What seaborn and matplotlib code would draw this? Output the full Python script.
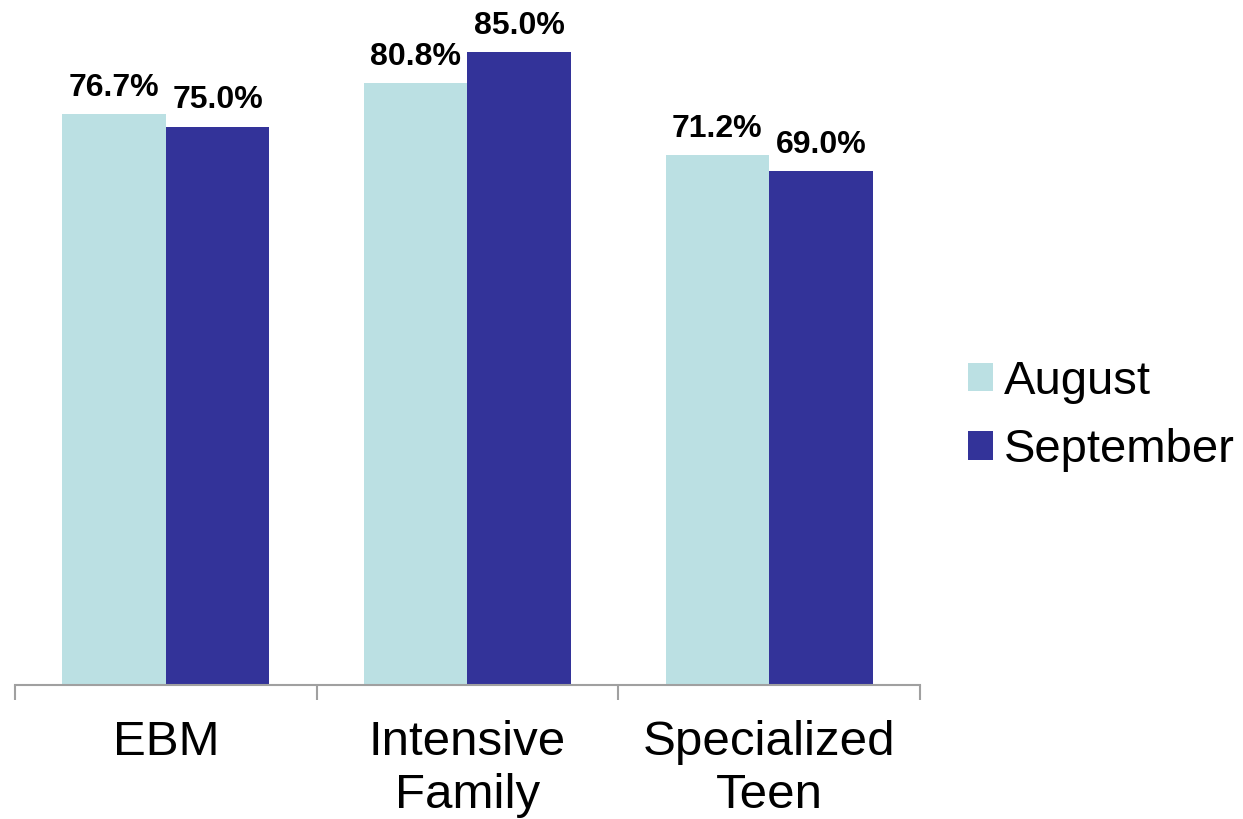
import pandas as pd
from matplotlib import pyplot as plt
import seaborn as sns

categories = ['EBM', 'Intensive\nFamily', 'Specialized\nTeen']
months = ['August', 'September']
august = [76.7, 80.8, 71.2]
september = [75.0, 85.0, 69.0]

df = pd.DataFrame({
    'program': categories * 2,
    'month': [months[0]] * 3 + [months[1]] * 3,
    'value': august + september,
})

sns.set_theme(style='white')
plt.rcParams['font.family'] = ['Liberation Sans', 'DejaVu Sans']
plt.rcParams['text.color'] = 'black'
plt.rcParams['xtick.color'] = 'black'

fig = plt.figure(figsize=(12.43, 8.19), dpi=100)
ax = fig.add_axes([15 / 1243, 1 - 685 / 819, 905 / 1243, 685 / 819])

sns.barplot(data=df, x='program', y='value', hue='month',
            palette=['#BBE0E3', '#333399'], width=0.686,
            saturation=1, linewidth=0, ax=ax, legend=True)

for cont in ax.containers:
    ax.bar_label(cont, fmt='%.1f%%', padding=8, fontsize=23,
                 fontweight='bold', color='black')

ax.set_xlim(-0.5, 2.5)
ax.set_ylim(0, 92)
ax.set_xlabel('')
ax.set_ylabel('')
ax.set_yticks([])
for s in ['top', 'right', 'left']:
    ax.spines[s].set_visible(False)
ax.spines['bottom'].set_color('#A0A0A0')
ax.spines['bottom'].set_linewidth(1.5)

ax.set_xticks([-0.5, 0.5, 1.5, 2.5], minor=True)
ax.tick_params(axis='x', which='minor', direction='out', length=11,
               width=1.5, color='#A0A0A0', bottom=True)
ax.tick_params(axis='x', which='major', length=0, pad=25, labelsize=35.5,
               labelcolor='black')
for lbl in ax.get_xticklabels():
    lbl.set_linespacing(1.25)

handles, labels = ax.get_legend_handles_labels()
ax.legend_.remove()
fig.legend(handles, labels, loc='center left',
           bbox_to_anchor=(925 / 1243, 1 - 416 / 819), frameon=False,
           fontsize=34, handlelength=0.55, handleheight=0.55,
           handletextpad=0.22, labelspacing=0.52, labelcolor='black')

plt.savefig('out.png', dpi=100)
